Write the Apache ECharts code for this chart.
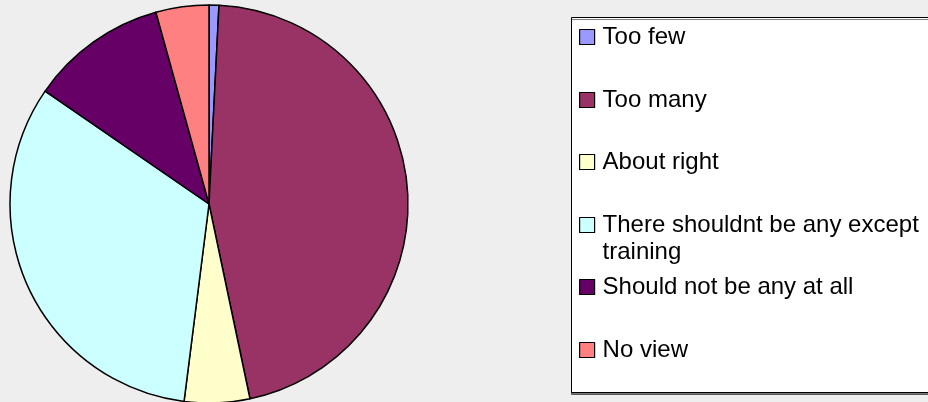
<!DOCTYPE html>
<html>
<head>
<meta charset="utf-8">
<script src="https://cdn.jsdelivr.net/npm/echarts@6/dist/echarts.min.js"></script>
<style>
html,body{margin:0;padding:0;background:#EEEEEE;}
#chart{width:928px;height:402px;}
</style>
</head>
<body>
<div id="chart"></div>
<script>
const categories = ['Too few', 'Too many', 'About right', 'There shouldnt be any except training', 'Should not be any at all', 'No view'];
const legendLabels = ['Too few', 'Too many', 'About right', 'There shouldnt be any except\ntraining', 'Should not be any at all', 'No view'];
const values = [0.8, 45.9, 5.3, 32.6, 11.1, 4.3];
const colors = ['#9999FF', '#993366', '#FFFFCC', '#CCFFFF', '#660066', '#FF8080'];
const legendCenters = [37, 100, 162, 225, 287, 350];

const chart = echarts.init(document.getElementById('chart'), null, {renderer: 'canvas'});
const LH = 27;
const legends = categories.map(function (name, i) {
  const multi = legendLabels[i].indexOf('\n') >= 0;
  return {
    show: true,
    orient: 'vertical',
    left: 579,
    top: multi ? legendCenters[i] - 1.5 * LH : legendCenters[i] - LH / 2,
    padding: 0,
    itemWidth: 15,
    itemHeight: 15,
    icon: 'rect',
    selectedMode: false,
    data: [name],
    itemStyle: {borderColor: '#000', borderWidth: 1.2},
    formatter: function () { return multi ? '\n' + legendLabels[i] : legendLabels[i]; },
    textStyle: {
      fontFamily: 'Liberation Sans, Arial, sans-serif',
      fontSize: 24,
      color: '#000',
      lineHeight: LH,
      padding: [0, 0, 0, 3]
    }
  };
});

chart.setOption({
  backgroundColor: '#EEEEEE',
  animation: false,
  color: colors,
  graphic: [{
    type: 'rect',
    z: -1,
    shape: {x: 571.5, y: 17.5, width: 500, height: 375},
    style: {fill: '#FFFFFF', stroke: '#000', lineWidth: 1, shadowColor: 'rgba(0,0,0,0.5)', shadowOffsetY: 2, shadowOffsetX: 0, shadowBlur: 0}
  }],
  legend: legends,
  series: [{
    type: 'pie',
    center: [209, 204],
    radius: 199,
    startAngle: 90,
    clockwise: true,
    label: {show: false},
    labelLine: {show: false},
    emphasis: {disabled: true},
    itemStyle: {borderColor: '#000', borderWidth: 1.5},
    data: categories.map(function (n, i) { return {name: n, value: values[i]}; })
  }]
});
</script>
</body>
</html>
